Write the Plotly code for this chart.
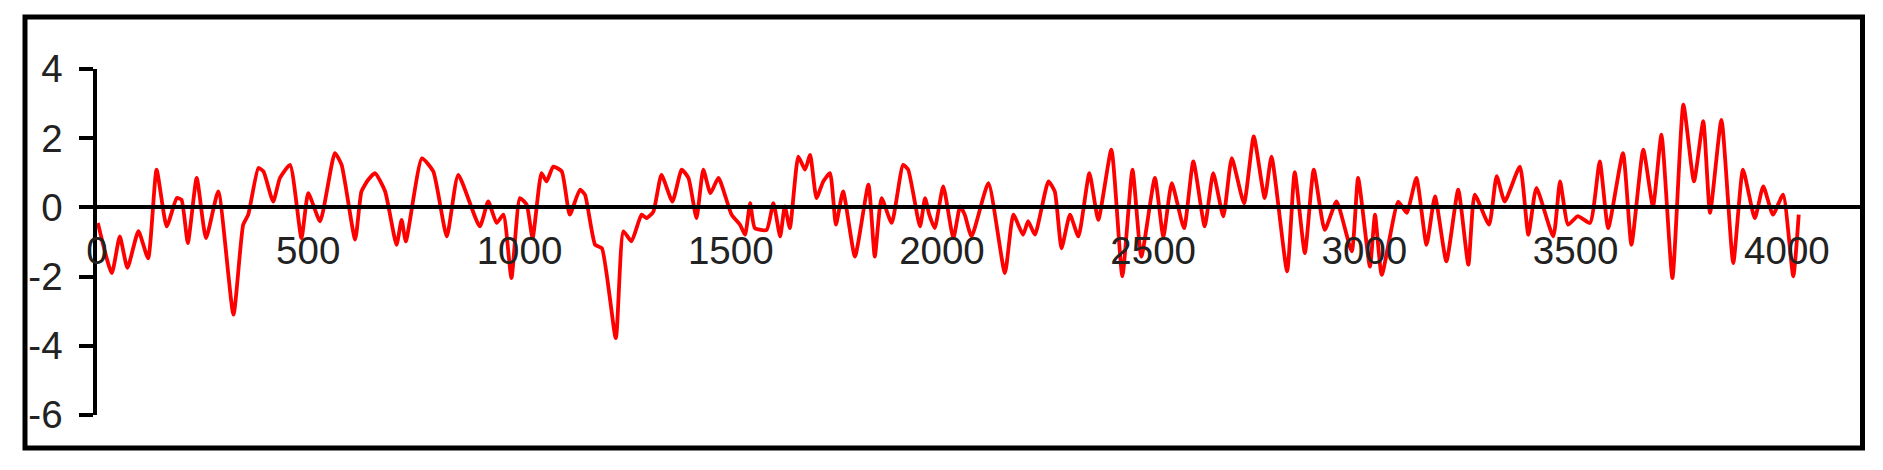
import plotly.graph_objects as go

# Data (x position, signal value)
x_vals = [2, 35, 54, 72, 98, 121, 141, 165, 189, 200, 215, 236, 258, 287, 323, 346, 358, 382, 394, 417,
          433, 457, 484, 500, 528, 563, 579, 611, 626, 642, 658, 682, 709, 721, 731, 769, 796, 828, 855, 906,
          926, 946, 962, 981, 1001, 1017, 1031, 1052, 1064, 1080, 1100, 1119, 1143, 1155, 1179, 1195, 1228, 1246, 1265, 1289,
          1301, 1317, 1336, 1362, 1384, 1400, 1419, 1435, 1452, 1471, 1502, 1522, 1534, 1546, 1557, 1585, 1601, 1617, 1628, 1640,
          1660, 1676, 1688, 1703, 1719, 1735, 1749, 1766, 1794, 1826, 1841, 1857, 1881, 1908, 1920, 1948, 1960, 1970, 1983, 2003,
          2027, 2043, 2054, 2070, 2110, 2149, 2169, 2192, 2204, 2220, 2252, 2267, 2283, 2303, 2323, 2349, 2370, 2401, 2427, 2451,
          2472, 2504, 2524, 2544, 2573, 2595, 2622, 2642, 2666, 2686, 2715, 2738, 2764, 2780, 2817, 2835, 2859, 2880, 2906, 2934,
          2970, 2985, 3013, 3025, 3041, 3080, 3100, 3123, 3147, 3167, 3194, 3222, 3246, 3261, 3295, 3313, 3332, 3368, 3388, 3407,
          3447, 3463, 3482, 3505, 3534, 3557, 3577, 3612, 3632, 3660, 3683, 3703, 3729, 3755, 3780, 3802, 3818, 3845, 3873, 3896,
          3924, 3944, 3967, 3991, 4015, 4028]
y_vals = [-0.45, -1.90, -0.84, -1.75, -0.69, -1.47, 1.09, -0.55, 0.27, 0.22, -1.03, 0.85, -0.89, 0.46, -3.10, -0.50, -0.21, 1.14, 1.04, 0.17,
          0.85, 1.23, -0.89, 0.41, -0.40, 1.57, 1.23, -0.93, 0.46, 0.80, 0.99, 0.46, -1.08, -0.36, -0.98, 1.42, 1.04, -0.84, 0.94, -0.55,
          0.17, -0.45, -0.21, -2.04, 0.27, 0.08, -0.89, 0.99, 0.75, 1.18, 1.04, -0.21, 0.51, 0.37, -1.08, -1.18, -3.78, -0.69, -0.98, -0.21,
          -0.31, -0.12, 0.94, 0.17, 1.09, 0.85, -0.31, 1.09, 0.41, 0.85, -0.21, -0.50, -0.79, 0.12, -0.60, -0.65, 0.12, -0.84, 0.03, -0.60,
          1.47, 1.09, 1.52, 0.27, 0.75, 0.99, -0.50, 0.46, -1.42, 0.66, -1.42, 0.27, -0.45, 1.23, 1.09, -0.55, 0.27, -0.21, -0.60, 0.61,
          -0.89, 0.03, -0.21, -0.84, 0.70, -1.90, -0.21, -0.79, -0.40, -0.79, 0.75, 0.46, -1.18, -0.21, -0.84, 0.99, -0.36, 1.67, -1.99, 1.09,
          -1.42, 0.85, -0.84, 0.70, -0.60, 1.33, -0.55, 0.99, -0.26, 1.42, 0.12, 2.05, 0.27, 1.47, -1.85, 1.02, -1.32, 1.09, -0.65, 0.17,
          -1.27, 0.85, -1.71, -0.21, -1.95, 0.17, -0.16, 0.85, -1.08, 0.32, -1.56, 0.51, -1.66, 0.37, -0.50, 0.90, 0.17, 1.18, -0.79, 0.56,
          -0.84, 0.75, -0.50, -0.25, -0.45, 1.33, -0.60, 1.57, -1.08, 1.67, 0.03, 2.10, -2.04, 2.97, 0.75, 2.49, -0.16, 2.53, -1.61, 1.09,
          -0.31, 0.61, -0.21, 0.37, -1.99, -0.21]

x_ticks = [0, 500, 1000, 1500, 2000, 2500, 3000, 3500, 4000]
y_ticks = [-6, -4, -2, 0, 2, 4]

fig = go.Figure()
fig.add_trace(go.Scatter(x=x_vals, y=y_vals, mode="lines",
                         line=dict(color="#ff0000", width=3.8, shape="spline", smoothing=0.5),
                         showlegend=False))

W, H = 1883, 470
OFF = 8  # page offset of the figure in the browser
L, T = 97 - OFF, 69 - OFF
R = W - (1860 - OFF)
B = H - (415 - OFF)
pw, ph = W - L - R, H - T - B

fig.update_layout(
    width=W, height=H,
    margin=dict(l=L, r=R, t=T, b=B),
    paper_bgcolor="white", plot_bgcolor="white",
    font=dict(family="Liberation Sans, Arial, sans-serif", size=38.5, color="#222222"),
    xaxis=dict(range=[0, 4173], tickvals=x_ticks, ticktext=[str(v) for v in x_ticks],
               showgrid=False, zeroline=False, showline=True, linecolor="black", linewidth=3.5,
               ticks="", anchor="free", position=0.6, ticklabelstandoff=9),
    yaxis=dict(range=[-6, 4], tickvals=y_ticks, ticktext=[str(v) for v in y_ticks],
               showgrid=False, zeroline=False, showline=True, linecolor="black", linewidth=3.5,
               ticks="outside", ticklen=14, tickwidth=3.5, tickcolor="black",
               ticklabelstandoff=9, domain=[0, 1]),
    shapes=[dict(type="rect", xref="paper", yref="paper",
                 x0=(25 - OFF - L) / pw, x1=(1862.5 - OFF - L) / pw,
                 y0=(H - B - (448 - OFF)) / ph, y1=(H - B - (17 - OFF)) / ph,
                 line=dict(color="black", width=5), fillcolor="rgba(0,0,0,0)")],
)

fig.write_html("out.html")
